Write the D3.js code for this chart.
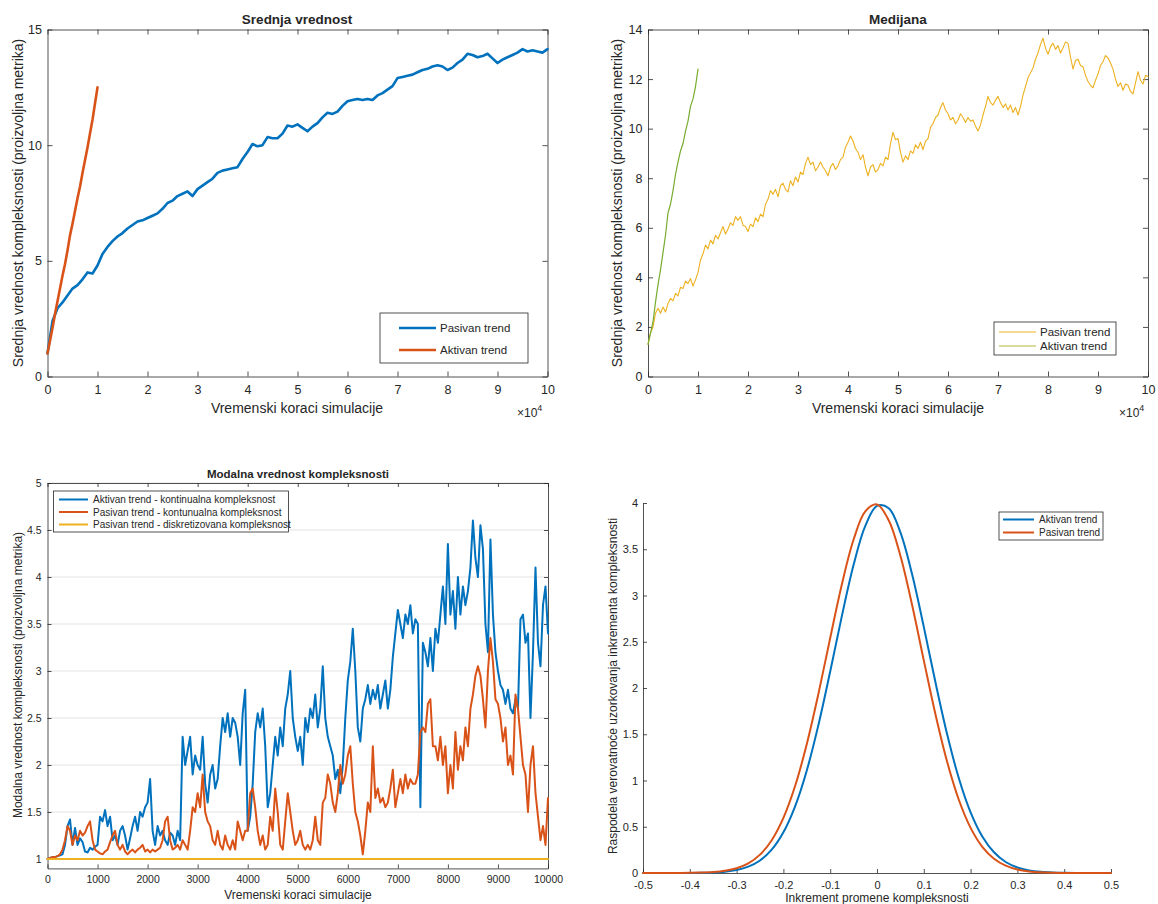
<!DOCTYPE html>
<html>
<head>
<meta charset="utf-8">
<script src="https://cdn.jsdelivr.net/npm/d3@7"></script>
<style>
  body { margin: 0; background: #fff; }
  text { font-family: "Liberation Sans", Arial, Helvetica, sans-serif; fill: #262626; }
</style>
</head>
<body>
<svg id="chart" width="1158" height="904"></svg>
<script>
// ---------- Srednja vrednost (x in units of 10^4 steps) ----------
const meanPasivanStep = 0.1;
const meanPasivan = [
  1.00, 2.40, 2.95, 3.20, 3.50, 3.80, 3.95, 4.20, 4.50, 4.45,
  4.80, 5.30, 5.60, 5.85, 6.05, 6.20, 6.40, 6.55, 6.70, 6.75,
  6.85, 6.95, 7.05, 7.25, 7.50, 7.60, 7.80, 7.90, 8.00, 7.80,
  8.10, 8.25, 8.40, 8.55, 8.80, 8.90, 8.95, 9.00, 9.05, 9.40,
  9.70, 10.05, 9.95, 10.00, 10.35, 10.30, 10.30, 10.50, 10.85, 10.80,
  10.90, 10.75, 10.60, 10.80, 10.95, 11.20, 11.40, 11.35, 11.45, 11.70,
  11.90, 11.95, 12.00, 11.95, 12.00, 11.95, 12.15, 12.25, 12.40, 12.55,
  12.90, 12.95, 13.00, 13.05, 13.15, 13.25, 13.30, 13.40, 13.45, 13.40,
  13.25, 13.35, 13.55, 13.70, 13.95, 13.90, 13.80, 13.85, 13.95, 13.75,
  13.55, 13.70, 13.80, 13.90, 14.00, 14.15, 14.05, 14.10, 14.05, 14.00,
  14.15
];
const meanAktivanStep = 0.05;
const meanAktivan = [1.00, 1.55, 2.10, 2.70, 3.25, 3.80, 4.35, 4.85, 5.45, 6.10,
  6.60, 7.15, 7.70, 8.20, 8.80, 9.35, 9.90, 10.50, 11.10, 11.80, 12.50];
const meanXTicks = [0, 1, 2, 3, 4, 5, 6, 7, 8, 9, 10];
const meanYTicks = [0, 5, 10, 15];

// ---------- Medijana (x in units of 10^4 steps) ----------
const medianStep = 0.05;
const medianPasivan = [
  1.30, 1.75, 2.00, 2.55, 2.75, 2.55, 2.80, 2.60, 2.95, 3.15,
  3.05, 3.35, 3.25, 3.60, 3.55, 3.85, 3.75, 3.95, 3.65, 3.90,
  4.20, 4.70, 4.95, 5.30, 5.15, 5.50, 5.35, 5.70, 5.55, 5.80,
  6.05, 5.75, 5.95, 6.20, 6.10, 6.45, 6.30, 6.45, 6.10, 6.05,
  5.85, 6.15, 6.05, 6.40, 6.25, 6.55, 6.45, 6.95, 7.15, 7.50,
  7.35, 7.55, 7.25, 7.70, 7.80, 7.55, 7.45, 7.90, 7.70, 8.05,
  7.85, 8.25, 8.15, 8.60, 8.85, 8.55, 8.65, 8.30, 8.45, 8.65,
  8.45, 8.30, 8.10, 8.45, 8.60, 8.35, 8.50, 8.75, 8.85, 9.25,
  9.45, 9.70, 9.50, 9.20, 9.05, 8.75, 8.95, 8.45, 8.10, 8.45,
  8.55, 8.25, 8.35, 8.60, 8.50, 8.85, 8.75, 9.40, 9.85, 9.55,
  9.60, 9.05, 8.65, 8.90, 8.75, 9.10, 9.00, 9.35, 9.20, 9.45,
  9.15, 9.50, 9.60, 10.05, 10.20, 10.45, 10.55, 10.85, 11.05, 10.75,
  10.60, 10.35, 10.45, 10.20, 10.35, 10.60, 10.45, 10.25, 10.45, 10.30,
  10.35, 10.10, 9.90, 10.15, 10.55, 10.90, 11.30, 11.05, 10.95, 11.15,
  11.30, 11.05, 10.85, 11.00, 10.75, 10.95, 10.65, 10.85, 10.55, 10.90,
  11.35, 11.70, 12.05, 12.25, 12.45, 12.80, 13.05, 13.40, 13.65, 13.25,
  13.00, 13.30, 13.45, 13.20, 13.35, 13.05, 13.25, 13.50, 13.45, 12.90,
  12.40, 12.75, 12.80, 12.55, 12.50, 12.15, 11.90, 11.75, 11.65, 11.95,
  12.20, 12.55, 12.70, 12.95, 12.85, 12.65, 12.40, 12.00, 11.70, 11.85,
  11.55, 11.80, 11.75, 11.50, 11.40, 11.85, 12.30, 11.95, 11.80, 12.15,
  12.10
];
const medianAktivan = [1.30, 1.75, 2.20, 3.00, 3.70, 4.30, 5.00, 5.70, 6.60, 6.95,
  7.50, 8.15, 8.65, 9.10, 9.40, 9.90, 10.30, 10.90, 11.20, 11.70, 12.40];
const medianXTicks = [0, 1, 2, 3, 4, 5, 6, 7, 8, 9, 10];
const medianYTicks = [0, 2, 4, 6, 8, 10, 12, 14];

// ---------- Modalna vrednost kompleksnosti ----------
const modeStep = 50;
const modeAktivan = [
  1.00, 1.01, 1.02, 1.02, 1.03, 1.04, 1.05, 1.15, 1.35, 1.42,
  1.15, 1.33, 1.15, 1.22, 1.18, 1.08, 1.07, 1.12, 1.10, 1.13,
  1.15, 1.45, 1.40, 1.52, 1.35, 1.45, 1.20, 1.25, 1.15, 1.30,
  1.35, 1.25, 1.10, 1.22, 1.35, 1.45, 1.30, 1.50, 1.45, 1.55,
  1.60, 1.85, 1.30, 1.15, 1.35, 1.25, 1.30, 1.20, 1.15, 1.28,
  1.25, 1.15, 1.30, 1.20, 2.30, 2.00, 2.15, 2.30, 1.90, 2.10,
  2.00, 1.95, 2.30, 1.80, 1.60, 1.90, 2.00, 1.75, 1.85, 2.20,
  2.50, 2.35, 2.55, 2.30, 2.50, 2.45, 2.30, 2.00, 2.55, 2.80,
  1.30, 1.45, 1.80, 2.35, 2.55, 2.40, 2.60, 2.20, 1.55, 1.70,
  2.00, 2.30, 2.10, 2.40, 2.20, 2.60, 2.75, 3.00, 2.50, 2.30,
  2.15, 2.30, 2.00, 2.50, 2.35, 2.60, 2.50, 2.75, 2.40, 2.60,
  3.05, 2.50, 2.30, 2.20, 2.10, 1.85, 1.95, 1.70, 2.00, 2.50,
  2.90, 3.10, 3.45, 3.00, 2.40, 2.25, 2.60, 2.70, 2.85, 2.65,
  2.80, 2.70, 2.85, 2.60, 2.75, 2.90, 2.60, 2.80, 3.15, 3.40,
  3.65, 3.50, 3.35, 3.60, 3.50, 3.70, 3.40, 3.55, 3.50, 1.55,
  3.30, 3.20, 3.05, 3.35, 3.00, 3.45, 3.30, 3.60, 3.90, 3.50,
  4.35, 3.60, 3.85, 3.45, 4.00, 3.60, 3.90, 3.70, 3.85, 4.10,
  4.60, 4.20, 4.00, 4.55, 4.30, 3.50, 3.20, 4.40, 3.60, 3.20,
  3.00, 2.85, 2.80, 2.65, 2.80, 2.60, 2.55, 2.70, 2.60, 3.55,
  3.60, 3.30, 3.40, 2.50, 3.20, 4.10, 3.30, 3.05, 3.70, 3.90,
  3.40
];
const modePasivan = [
  1.00, 1.01, 1.02, 1.02, 1.03, 1.05, 1.10, 1.20, 1.35, 1.30,
  1.15, 1.25, 1.20, 1.30, 1.25, 1.28, 1.35, 1.40, 1.20, 1.10,
  1.08, 1.06, 1.05, 1.08, 1.10, 1.18, 1.25, 1.30, 1.15, 1.10,
  1.15, 1.08, 1.05, 1.08, 1.10, 1.07, 1.10, 1.12, 1.15, 1.08,
  1.10, 1.07, 1.10, 1.08, 1.10, 1.12, 1.20, 1.40, 1.45, 1.20,
  1.10, 1.12, 1.15, 1.10, 1.20, 1.15, 1.10, 1.30, 1.55, 1.50,
  1.70, 1.55, 1.90, 1.50, 1.40, 1.35, 1.20, 1.15, 1.30, 1.15,
  1.10, 1.25, 1.15, 1.10, 1.20, 1.10, 1.40, 1.30, 1.20, 1.30,
  1.30, 1.70, 1.75, 1.55, 1.30, 1.15, 1.25, 1.10, 1.15, 1.45,
  1.30, 1.75, 1.50, 1.15, 1.10, 1.40, 1.70, 1.50, 1.30, 1.15,
  1.20, 1.30, 1.15, 1.10, 1.15, 1.10, 1.20, 1.45, 1.20, 1.15,
  1.60, 1.65, 1.90, 1.80, 1.60, 1.50, 1.70, 2.00, 1.80, 1.90,
  2.10, 2.20, 1.80, 1.50, 1.40, 1.25, 1.05, 1.30, 1.60, 1.50,
  2.20, 1.65, 1.75, 1.60, 1.65, 1.55, 1.60, 1.75, 1.95, 1.55,
  1.70, 1.85, 1.70, 1.90, 1.75, 1.85, 1.80, 1.80, 1.90, 2.35,
  2.40, 2.35, 2.65, 2.70, 2.20, 2.20, 2.05, 2.30, 2.00, 2.20,
  1.70, 2.00, 1.75, 2.35, 1.95, 2.20, 2.05, 2.40, 2.20, 2.60,
  2.75, 2.95, 3.05, 2.95, 2.70, 2.40, 3.00, 3.35, 3.10, 2.70,
  2.65, 2.50, 2.25, 2.40, 2.00, 2.10, 1.90, 2.75, 2.60, 2.30,
  2.00, 1.90, 1.50, 2.00, 2.20, 1.70, 1.45, 1.20, 1.35, 1.15,
  1.65
];
const modeDiskretX = [0, 10000];
const modeDiskret = [1, 1];
const modeXTicks = [0, 1000, 2000, 3000, 4000, 5000, 6000, 7000, 8000, 9000, 10000];
const modeYTicks = [1, 1.5, 2, 2.5, 3, 3.5, 4, 4.5, 5];

// ---------- Raspodela inkrementa kompleksnosti ----------
const incStart = -0.5, incStep = 0.025;
const pdfAktivan = [
  0, 0, 0.0001, 0.0003, 0.0009, 0.0024, 0.0061, 0.0146, 0.0327, 0.0687,
  0.1357, 0.2520, 0.440, 0.721, 1.109, 1.604, 2.178, 2.780, 3.332, 3.752,
  3.969, 3.944, 3.682, 3.229, 2.661, 2.059, 1.497, 1.022, 0.656, 0.395,
  0.224, 0.1191, 0.0595, 0.0279, 0.0123, 0.0051, 0.0020, 0.0007, 0.0002, 0.0001,
  0
];
const pdfPasivan = [
  0, 0, 0.0002, 0.0006, 0.0016, 0.0042, 0.0104, 0.0238, 0.0514, 0.1042,
  0.1984, 0.3547, 0.596, 0.940, 1.395, 1.942, 2.540, 3.122, 3.605, 3.910,
  3.984, 3.813, 3.429, 2.897, 2.299, 1.714, 1.200, 0.789, 0.488, 0.283,
  0.1545, 0.0792, 0.0381, 0.0172, 0.0073, 0.0029, 0.0011, 0.0004, 0.0001, 0,
  0
];
const incXTicks = [-0.5, -0.4, -0.3, -0.2, -0.1, 0, 0.1, 0.2, 0.3, 0.4, 0.5];
const incYTicks = [0, 0.5, 1, 1.5, 2, 2.5, 3, 3.5, 4];

// ---------- drawing ----------
const BLUE = "#0072BD", ORANGE = "#D95319", YELLOW = "#EDB120", GREEN = "#77AC30";
const AXIS = "#262626";
const svg = d3.select("#chart");
svg.append("rect").attr("width", 1158).attr("height", 904).attr("fill", "#fff");

function panel(o) {
  const x = d3.scaleLinear().domain(o.xDomain).range([o.left, o.right]);
  const y = d3.scaleLinear().domain(o.yDomain).range([o.bottom, o.top]);
  const g = svg.append("g");
  const fmt = d => String(d);

  if (o.grid) {
    g.append("g").selectAll("line").data(o.yTicks).join("line")
      .attr("x1", o.left).attr("x2", o.right)
      .attr("y1", d => y(d)).attr("y2", d => y(d))
      .attr("stroke", "#e3e3e3").attr("stroke-width", 1);
  }

  const axes = [];
  axes.push(g.append("g").attr("transform", `translate(0,${o.bottom})`)
    .call(d3.axisBottom(x).tickValues(o.xTicks).tickFormat(fmt)
      .tickSizeInner(-o.tick).tickSizeOuter(0).tickPadding(o.xPad)));
  axes.push(g.append("g").attr("transform", `translate(${o.left},0)`)
    .call(d3.axisLeft(y).tickValues(o.yTicks).tickFormat(fmt)
      .tickSizeInner(-o.tick).tickSizeOuter(0).tickPadding(o.yPad)));
  if (o.box) {
    axes.push(g.append("g").attr("transform", `translate(0,${o.top})`)
      .call(d3.axisTop(x).tickValues(o.xTicks).tickFormat("")
        .tickSizeInner(-o.tick).tickSizeOuter(0)));
    axes.push(g.append("g").attr("transform", `translate(${o.right},0)`)
      .call(d3.axisRight(y).tickValues(o.yTicks).tickFormat("")
        .tickSizeInner(-o.tick).tickSizeOuter(0)));
  }
  axes.forEach(a => {
    a.selectAll(".domain, .tick line").attr("stroke", AXIS).attr("stroke-width", 0.8);
    a.selectAll("text").attr("font-size", o.tickFont).attr("fill", AXIS)
      .attr("font-family", '"Liberation Sans", Arial, Helvetica, sans-serif');
  });
  return { x, y, g };
}

function drawLine(p, xs, ys, color, width, curve) {
  const line = d3.line()
    .x((d, i) => p.x(xs[i]))
    .y(d => p.y(d))
    .curve(curve || d3.curveLinear);
  p.g.append("path").datum(ys)
    .attr("d", line)
    .attr("fill", "none")
    .attr("stroke", color)
    .attr("stroke-width", width)
    .attr("stroke-linejoin", "round")
    .attr("stroke-linecap", "round");
}

function legend(o) {
  const g = svg.append("g");
  g.append("rect").attr("x", o.x).attr("y", o.y).attr("width", o.w).attr("height", o.h)
    .attr("fill", "#fff").attr("stroke", AXIS).attr("stroke-width", 0.8);
  o.items.forEach((it, i) => {
    g.append("line").attr("x1", o.lx1).attr("x2", o.lx2)
      .attr("y1", o.rows[i]).attr("y2", o.rows[i])
      .attr("stroke", it.color).attr("stroke-width", it.width);
    g.append("text").attr("x", o.tx).attr("y", o.rows[i]).attr("dy", "0.35em")
      .attr("font-size", o.font).text(it.label);
  });
}

function title(x, y, txt, size) {
  svg.append("text").attr("x", x).attr("y", y).attr("text-anchor", "middle")
    .attr("font-size", size).attr("font-weight", "bold").attr("fill", "#000").text(txt);
}
function xLabel(x, y, txt, size) {
  svg.append("text").attr("x", x).attr("y", y).attr("text-anchor", "middle")
    .attr("font-size", size).text(txt);
}
function yLabel(x, y, txt, size) {
  svg.append("text").attr("transform", `translate(${x},${y}) rotate(-90)`)
    .attr("text-anchor", "middle").attr("dy", "0.35em")
    .attr("font-size", size).text(txt);
}
function exponent(x, y) {
  const t = svg.append("text").attr("x", x).attr("y", y).attr("font-size", 12).text("×10");
  t.append("tspan").attr("dy", -6).attr("font-size", 9).text("4");
}

// Panel 1: Srednja vrednost
const p1 = panel({ left: 47.5, right: 547.5, top: 29.5, bottom: 376.5,
  xDomain: [0, 10], yDomain: [0, 15], xTicks: meanXTicks, yTicks: meanYTicks,
  tick: 5, xPad: 9, yPad: 5.5, tickFont: 12.5, box: true });
drawLine(p1, meanPasivan.map((d, i) => i * meanPasivanStep), meanPasivan, BLUE, 2.6);
drawLine(p1, meanAktivan.map((d, i) => i * meanAktivanStep), meanAktivan, ORANGE, 2.6);
title(297, 24, "Srednja vrednost", 13.5);
xLabel(297, 413, "Vremenski koraci simulacije", 14);
yLabel(18, 203, "Srednja vrednost kompleksnosti (proizvoljna metrika)", 14);
exponent(517, 417);
legend({ x: 380, y: 313, w: 148, h: 50, lx1: 399, lx2: 436, tx: 440, rows: [328, 350], font: 11.5,
  items: [{ label: "Pasivan trend", color: BLUE, width: 2.6 },
          { label: "Aktivan trend", color: ORANGE, width: 2.6 }] });

// Panel 2: Medijana
const p2 = panel({ left: 648, right: 1148, top: 29.5, bottom: 376.5,
  xDomain: [0, 10], yDomain: [0, 14], xTicks: medianXTicks, yTicks: medianYTicks,
  tick: 5, xPad: 9, yPad: 5.5, tickFont: 12.5, box: true });
drawLine(p2, medianPasivan.map((d, i) => i * medianStep), medianPasivan, YELLOW, 1.1);
drawLine(p2, medianAktivan.map((d, i) => i * medianStep), medianAktivan, GREEN, 1.2);
title(898, 24, "Medijana", 13.5);
xLabel(898, 413, "Vremenski koraci simulacije", 14);
yLabel(617, 203, "Srednja vrednost kompleksnosti (proizvoljna metrika)", 14);
exponent(1119, 417);
legend({ x: 994, y: 322, w: 122, h: 33, lx1: 999, lx2: 1036, tx: 1040, rows: [332, 346], font: 11.5,
  items: [{ label: "Pasivan trend", color: YELLOW, width: 1 },
          { label: "Aktivan trend", color: "#b5b53a", width: 1 }] });

// Panel 3: Modalna vrednost kompleksnosti
const p3 = panel({ left: 47.5, right: 548, top: 483, bottom: 868.4,
  xDomain: [0, 10000], yDomain: [0.9, 5], xTicks: modeXTicks, yTicks: modeYTicks,
  tick: 4, xPad: 7, yPad: 6, tickFont: 10.5, box: true, grid: true });
drawLine(p3, modeAktivan.map((d, i) => i * modeStep), modeAktivan, BLUE, 2);
drawLine(p3, modePasivan.map((d, i) => i * modeStep), modePasivan, ORANGE, 2);
drawLine(p3, modeDiskretX, modeDiskret, YELLOW, 2);
title(298, 478, "Modalna vrednost kompleksnosti", 11.5);
xLabel(298, 899, "Vremenski koraci simulacije", 12);
yLabel(18, 675, "Modalna vrednost kompleksnosti (proizvoljna metrika)", 12);
legend({ x: 53.5, y: 491, w: 235, h: 41, lx1: 59, lx2: 88, tx: 93, rows: [499.5, 512, 524.5], font: 10,
  items: [{ label: "Aktivan trend - kontinualna kompleksnost", color: BLUE, width: 2 },
          { label: "Pasivan trend - kontunualna kompleksnost", color: ORANGE, width: 2 },
          { label: "Pasivan trend - diskretizovana kompleksnost", color: YELLOW, width: 2 }] });

// Panel 4: Raspodela inkrementa
const p4 = panel({ left: 643, right: 1111, top: 503, bottom: 873,
  xDomain: [-0.5, 0.5], yDomain: [0, 4], xTicks: incXTicks, yTicks: incYTicks,
  tick: 4, xPad: 8, yPad: 5, tickFont: 11, box: false });
const incX = pdfAktivan.map((d, i) => incStart + i * incStep);
drawLine(p4, incX, pdfAktivan, BLUE, 2, d3.curveCatmullRom);
drawLine(p4, incX, pdfPasivan, ORANGE, 2, d3.curveCatmullRom);
xLabel(877, 902, "Inkrement promene kompleksnosti", 12);
yLabel(613, 686, "Raspodela verovatnoće uzorkovanja inkrementa kompleksnosti", 12);
legend({ x: 999, y: 512, w: 104, h: 28, lx1: 1003, lx2: 1034, tx: 1039, rows: [519.5, 532.5], font: 10,
  items: [{ label: "Aktivan trend", color: BLUE, width: 2 },
          { label: "Pasivan trend", color: ORANGE, width: 2 }] });
</script>
</body>
</html>
